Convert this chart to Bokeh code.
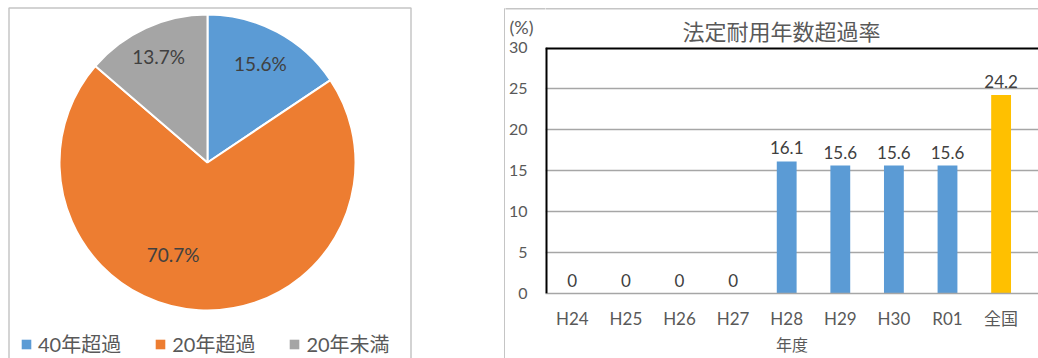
import math
from bokeh.plotting import figure
from bokeh.models import (ColumnDataSource, Range1d, Legend, LegendItem, BoxAnnotation,
                          Span, FixedTicker, Grid)
from bokeh.layouts import row, column
from bokeh.embed import file_html
from bokeh.resources import INLINE
from bokeh.core.properties import value

CJK = "Noto Sans CJK JP"
NUM = "Lato, 'Noto Sans CJK JP'"

# ---------------- data ----------------
pie_labels = ["40年超過", "20年超過", "20年未満"]
pie_values = [15.6, 70.7, 13.7]
pie_colors = ["#5B9BD5", "#ED7D31", "#A5A5A5"]

bar_categories = ["H24", "H25", "H26", "H27", "H28", "H29", "H30", "R01", "全国"]
bar_values = [0, 0, 0, 0, 16.1, 15.6, 15.6, 15.6, 24.2]
bar_colors = ["#5B9BD5"] * 8 + ["#FFC000"]
bar_title = "法定耐用年数超過率"
x_axis_title = "年度"
y_unit = "(%)"
y_ticks = [0, 5, 10, 15, 20, 25, 30]

H = 358
BORDER = "#404040"
TXT = "#595959"


def blank(w, h):
    f = figure(width=w, height=h, x_range=Range1d(0, w), y_range=Range1d(0, h),
               x_axis_type=None, y_axis_type=None, min_border=0, title=None,
               toolbar_location=None, output_backend="svg")
    f.frame_align = False
    f.outline_line_color = None
    return f


# ---------------- pie panel ----------------
W1 = 505
p1 = blank(W1, H)

cx, cy, R = 207, 196, 148
total = sum(pie_values)
starts, ends, cum = [], [], 0.0
for v in pie_values:
    starts.append(math.pi / 2 - 2 * math.pi * cum / total)
    cum += v
    ends.append(math.pi / 2 - 2 * math.pi * cum / total)

pie_src = ColumnDataSource(dict(start=starts, end=ends, color=pie_colors, label=pie_labels))
p1.wedge(x=cx, y=cy, radius=R, start_angle="start", end_angle="end", direction="clock",
         fill_color="color", line_color="white", line_width=2, source=pie_src)

label_frac = [0.76, 0.62, 0.79]
label_dx = [0, -29, 0]
lx, ly, lt = [], [], []
for s, e, v, f in zip(starts, ends, pie_values, label_frac):
    m = (s + e) / 2
    lx.append(cx + R * f * math.cos(m))
    ly.append(cy + R * f * math.sin(m))
    lt.append(f"{v:.1f}%")
p1.text(x=lx, y=ly, text=lt, x_offset=label_dx, text_align="center", text_baseline="middle",
        text_font=value(NUM), text_font_size="19px", text_color="#404040")

# legend swatches: renderers that draw nothing, used only for the legend squares
nan = float("nan")
swatches = [p1.quad(left=[nan], right=[nan], top=[nan], bottom=[nan], fill_color=c, line_color=None)
            for c in pie_colors]
legend = Legend(items=[LegendItem(label=lab, renderers=[r]) for lab, r in zip(pie_labels, swatches)],
                orientation="horizontal", location=(20, 0), margin=0, padding=0,
                spacing=33, label_standoff=6, glyph_width=12, glyph_height=12, label_height=29,
                label_text_font=NUM, label_text_font_size="20px", label_text_color=TXT,
                border_line_color=None, background_fill_alpha=0)
p1.add_layout(legend)

# panel borders (decoration)
p1.add_layout(BoxAnnotation(left=8.5, right=410.5, top=H - 7.5, bottom=-20, fill_alpha=0,
                            line_color=BORDER, line_width=1.5))
p1.add_layout(BoxAnnotation(left=W1 - 0.75, right=W1 + 50, top=H - 8.25, bottom=-20, fill_alpha=0,
                            line_color=BORDER, line_width=1.5))

# ---------------- bar panel: geometry ----------------
FRAME_TOP, FRAME_BOTTOM = 47, 293
WL = 40                      # y-axis strip
WR = 1038 - W1 - WL          # plot strip
HL, HR = 37, 46              # header heights
unit = 53.6
y_range = Range1d(0, 30)
x_range = Range1d(-0.5, -0.5 + WR / unit)

# header over the y axis: unit text
hdrL = blank(WL, HL)
hdrL.add_layout(BoxAnnotation(left=-10, right=WL + 10, top=HL - 8.25, bottom=-10, fill_alpha=0,
                              line_color=BORDER, line_width=1.5))
hdrL.text(x=[4], y=[HL - 26], text=[y_unit], text_align="left", text_baseline="middle",
          text_font=value(NUM), text_font_size="18px", text_color=TXT)

# header over the plot: title
hdrR = blank(WR, HR)
hdrR.add_layout(BoxAnnotation(left=-10, right=WR + 10, top=HR - 8.25, bottom=-10, fill_alpha=0,
                              line_color=BORDER, line_width=1.5))
hdrR.text(x=[236], y=[HR - 29], text=[bar_title], text_align="center", text_baseline="middle",
          text_font=value(CJK), text_font_size="22px", text_color=TXT)

# y axis strip
pY = figure(width=WL, height=H - HL, x_range=Range1d(0, 1), y_range=y_range,
            x_axis_type=None, min_border_left=WL - 2, min_border_right=0,
            min_border_top=FRAME_TOP - HL, min_border_bottom=H - FRAME_BOTTOM,
            title=None, toolbar_location=None, output_backend="svg")
pY.frame_align = False
pY.outline_line_color = None
pY.ygrid.visible = False
ya = pY.yaxis[0]
ya.ticker = FixedTicker(ticks=y_ticks)
ya.axis_line_color = None
ya.major_tick_line_color = None
ya.minor_tick_line_color = None
ya.major_tick_out = 0
ya.major_tick_in = 0
ya.major_label_standoff = 17
ya.major_label_text_font = NUM
ya.major_label_text_font_size = "16px"
ya.major_label_text_color = TXT

# main plot
p2 = figure(width=WR, height=H - HR, x_range=x_range, y_range=y_range, y_axis_type=None,
            min_border_left=0, min_border_right=0, min_border_top=FRAME_TOP - HR,
            min_border_bottom=H - FRAME_BOTTOM,
            title=None, toolbar_location=None, output_backend="svg")
p2.frame_align = False
p2.outline_line_color = None
p2.xgrid.visible = False
p2.add_layout(Grid(dimension=1, ticker=FixedTicker(ticks=y_ticks), grid_line_color="#A6A6A6",
                   grid_line_width=1.3))

src = ColumnDataSource(dict(x=list(range(len(bar_categories))), top=bar_values, color=bar_colors,
                            txt=[f"{v:g}" for v in bar_values]))
p2.vbar(x="x", top="top", width=0.37, fill_color="color", line_color=None, source=src)
p2.text(x="x", y="top", text="txt", source=src, text_align="center", text_baseline="bottom",
        y_offset=-7, text_font=value(NUM), text_font_size="17px", text_color="#404040")

xa = p2.xaxis[0]
xa.ticker = FixedTicker(ticks=list(range(len(bar_categories))))
xa.major_label_overrides = {i: c for i, c in enumerate(bar_categories)}
xa.axis_line_color = "#A6A6A6"
xa.axis_line_width = 1.3
xa.major_tick_line_color = None
xa.minor_tick_line_color = None
xa.major_tick_out = 0
xa.major_tick_in = 0
xa.major_label_standoff = 14
xa.major_label_text_font = NUM
xa.major_label_text_font_size = "17px"
xa.major_label_text_color = TXT
xa.axis_label = x_axis_title
xa.axis_label_standoff = 0
xa.axis_label_text_font = CJK
xa.axis_label_text_font_size = "16px"
xa.axis_label_text_font_style = "normal"
xa.axis_label_text_color = TXT

# plot-area frame: black left and top edges
p2.add_layout(Span(location=-0.5, dimension="height", line_color="black", line_width=4))
p2.add_layout(Span(location=30, dimension="width", line_color="black", line_width=4))

layout = row(p1, column(hdrL, pY), column(hdrR, p2))
open("out.html", "w").write(file_html(layout, INLINE))
